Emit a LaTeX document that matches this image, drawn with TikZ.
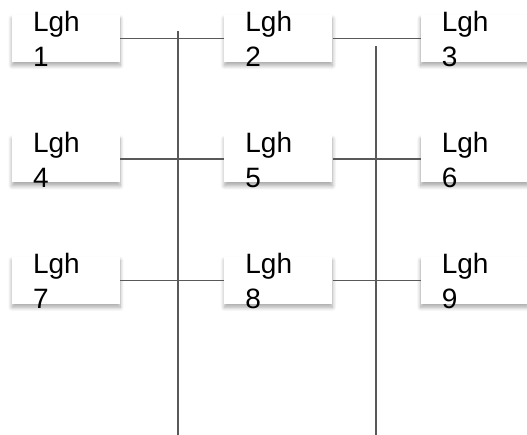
\documentclass[tikz,border=0pt]{standalone}
\usepackage{fontspec}
\setmainfont{Liberation Sans}
\usetikzlibrary{positioning, shadows.blur}

\begin{document}
\begin{tikzpicture}
	\tikzset{
		lghnode/.style={rectangle, fill=white, inner xsep=21pt, inner ysep=0pt, text width=66pt, minimum width=108pt, text height=17pt, text depth=30pt, align=left, font=\fontsize{28}{35}\selectfont, blur shadow={shadow xshift=0pt, shadow yshift=-3.5pt, shadow blur radius=4pt, shadow blur steps=8, shadow opacity=35}},
		wire/.style={line width=1.3pt, draw=black!65},
	}
	\useasboundingbox (0,0) rectangle (527pt,-435pt);

	\node[lghnode] (l1) at (66pt,-38.5pt) {Lgh\\1};
	\node[lghnode, right = 104pt of l1] (l2) {Lgh\\2};
	\node[lghnode, right = 88pt of l2] (l3) {Lgh\\3};

	\node[lghnode, below = 73pt of l1] (l4) {Lgh\\4};
	\node[lghnode, right = 104pt of l4] (l5) {Lgh\\5};
	\node[lghnode, right = 88pt of l5] (l6) {Lgh\\6};

	\node[lghnode, below = 74pt of l4] (l7) {Lgh\\7};
	\node[lghnode, right = 104pt of l7] (l8) {Lgh\\8};
	\node[lghnode, right = 88pt of l8] (l9) {Lgh\\9};

	% two vertical rails
	\coordinate (r1top) at (178pt,-31pt);
	\coordinate (r1bot) at (178pt,-435pt);
	\coordinate (r2top) at (376pt,-46pt);
	\coordinate (r2bot) at (376pt,-435pt);
	\draw[wire] (r1top) -- (r1bot);
	\draw[wire] (r2top) -- (r2bot);

	\draw[wire] (l1.east) -- (l2.west);
	\draw[wire] (l2.east) -- (l3.west);
	\draw[wire] (l4.east) -- (l5.west);
	\draw[wire] (l5.east) -- (l6.west);
	\draw[wire] (l7.east) -- (l8.west);
	\draw[wire] (l8.east) -- (l9.west);
\end{tikzpicture}
\end{document}
